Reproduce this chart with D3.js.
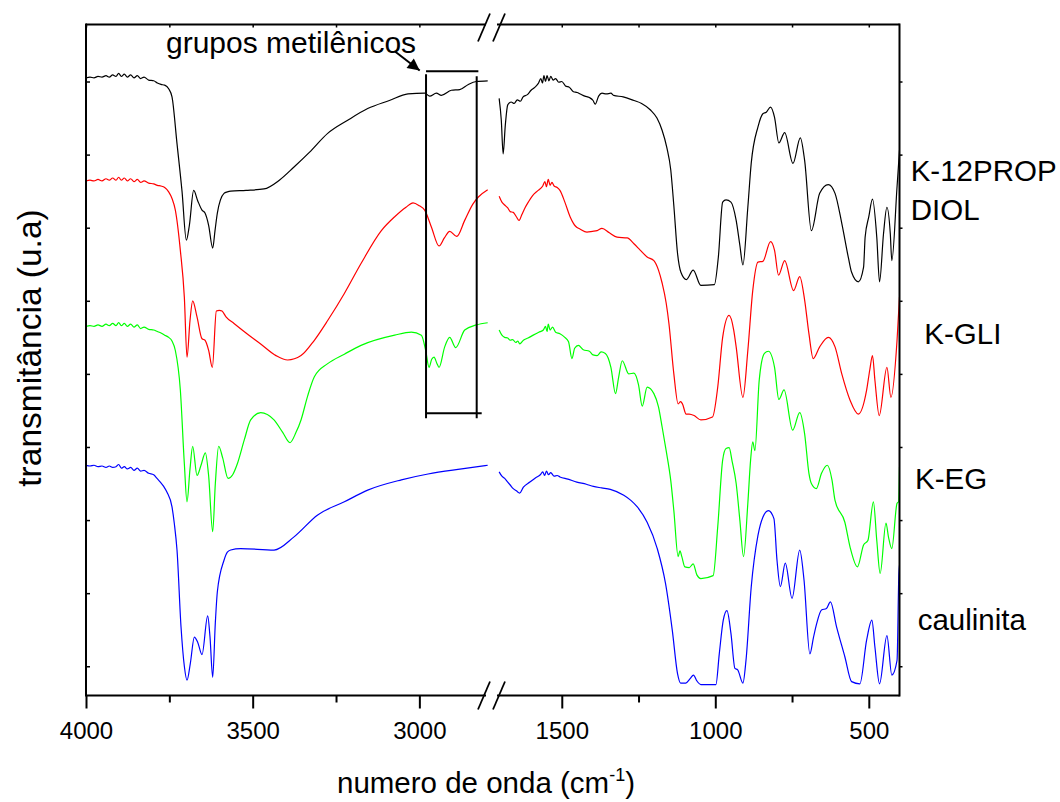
<!DOCTYPE html>
<html>
<head>
<meta charset="utf-8">
<script src="https://cdn.jsdelivr.net/npm/d3@7"></script>
<style>
  body { margin: 0; background: #fff; }
  text { font-family: "Liberation Sans", Arial, sans-serif; fill: #000; }
</style>
</head>
<body>
<script>
// FTIR spectra, [wavenumber (cm-1), transmittance (a.u.)]
const k12Left = [[4000,8.05],[3988,8.06],[3976,8.05],[3964,8.07],[3952,8.06],[3940,8.08],[3930,8.06],[3920,8.09],[3910,8.07],[3902,8.11],[3894,8.07],[3885,8.10],[3876,8.06],[3866,8.09],[3856,8.05],[3846,8.08],[3836,8.04],[3826,8.06],[3812,8.02],[3797,8.01],[3786,7.98],[3775,7.96],[3764,7.95],[3752,7.90],[3742,7.79],[3727,7.15],[3712,6.50],[3699,5.83],[3690,6.03],[3677,6.51],[3665,6.37],[3652,6.24],[3643,6.20],[3632,6.03],[3620,5.72],[3613,5.96],[3606,6.20],[3586,6.47],[3576,6.49],[3566,6.50],[3520,6.51],[3466,6.53],[3420,6.65],[3376,6.83],[3330,7.03],[3275,7.29],[3215,7.47],[3155,7.63],[3090,7.74],[3034,7.83],[2984,7.84],[2969,7.80],[2949,7.84],[2934,7.81],[2904,7.88],[2879,7.89],[2853,7.96],[2829,8.00],[2795,8.01]];
const k12Right = [[1704,7.77],[1697,7.47],[1691,7.01],[1684,7.40],[1676,7.68],[1665,7.72],[1655,7.70],[1645,7.75],[1635,7.73],[1626,7.79],[1612,7.82],[1600,7.88],[1588,7.92],[1577,7.97],[1568,8.04],[1563,7.98],[1558,8.08],[1553,8.00],[1548,8.08],[1542,8.01],[1536,8.07],[1528,8.02],[1520,8.04],[1510,7.99],[1500,8.00],[1488,7.94],[1475,7.92],[1462,7.86],[1450,7.85],[1440,7.83],[1425,7.80],[1410,7.78],[1398,7.74],[1391,7.69],[1380,7.80],[1369,7.84],[1355,7.83],[1340,7.84],[1331,7.81],[1300,7.79],[1265,7.74],[1240,7.70],[1211,7.61],[1190,7.50],[1173,7.33],[1158,7.10],[1145,6.79],[1135,6.30],[1123,5.65],[1112,5.39],[1094,5.29],[1072,5.42],[1047,5.21],[1003,5.22],[990,5.60],[976,6.35],[965,6.38],[949,6.35],[932,6.10],[920,5.76],[910,5.49],[894,6.28],[883,6.88],[861,7.38],[845,7.56],[834,7.58],[820,7.65],[807,7.51],[793,7.16],[774,7.30],[747,6.88],[723,7.23],[709,6.92],[687,5.96],[660,6.47],[632,6.59],[610,6.47],[588,6.06],[566,5.58],[556,5.39],[534,5.26],[517,5.46],[512,5.87],[500,6.15],[488,6.39],[474,5.87],[465,5.26],[452,5.92],[441,6.28],[430,5.92],[425,5.55],[408,6.56],[400,7.06]];

const gliLeft = [[4000,6.64],[3988,6.65],[3976,6.64],[3964,6.66],[3952,6.64],[3940,6.67],[3930,6.65],[3920,6.68],[3910,6.65],[3902,6.69],[3894,6.65],[3885,6.68],[3876,6.64],[3866,6.67],[3856,6.63],[3846,6.66],[3836,6.62],[3826,6.64],[3812,6.61],[3797,6.60],[3786,6.58],[3775,6.57],[3764,6.55],[3752,6.49],[3742,6.40],[3732,6.24],[3717,5.69],[3705,5.05],[3697,4.23],[3688,4.73],[3680,5.00],[3667,4.78],[3652,4.48],[3643,4.46],[3632,4.32],[3621,4.09],[3609,4.86],[3600,4.87],[3592,4.86],[3580,4.78],[3556,4.69],[3520,4.56],[3476,4.41],[3430,4.25],[3395,4.19],[3355,4.25],[3315,4.46],[3275,4.73],[3225,5.10],[3175,5.51],[3114,5.96],[3074,6.15],[3040,6.28],[3019,6.34],[3000,6.30],[2984,6.24],[2964,6.01],[2941,5.75],[2925,5.86],[2909,5.95],[2888,5.88],[2864,6.10],[2840,6.32],[2823,6.42],[2795,6.52]];
const gliRight = [[1704,6.43],[1695,6.35],[1686,6.31],[1676,6.27],[1668,6.22],[1658,6.21],[1648,6.15],[1639,6.10],[1630,6.18],[1620,6.27],[1609,6.35],[1595,6.44],[1577,6.51],[1562,6.57],[1555,6.63],[1550,6.56],[1544,6.66],[1538,6.58],[1532,6.62],[1525,6.57],[1515,6.55],[1506,6.51],[1490,6.35],[1473,6.15],[1462,6.06],[1455,6.02],[1440,5.98],[1418,5.94],[1400,5.95],[1385,5.96],[1369,5.99],[1345,5.93],[1320,5.87],[1287,5.86],[1265,5.78],[1244,5.69],[1222,5.60],[1200,5.55],[1185,5.42],[1173,5.24],[1160,4.97],[1151,4.69],[1135,4.00],[1121,3.59],[1113,3.62],[1107,3.59],[1095,3.45],[1085,3.45],[1069,3.43],[1047,3.37],[1009,3.41],[992,3.82],[976,4.50],[955,4.80],[940,4.60],[932,4.37],[910,3.68],[894,4.32],[878,5.14],[861,5.53],[845,5.54],[820,5.81],[807,5.69],[794,5.35],[774,5.55],[745,5.14],[725,5.33],[709,5.01],[695,4.55],[681,4.21],[660,4.37],[632,4.50],[610,4.37],[588,4.00],[561,3.64],[534,3.45],[507,3.78],[497,4.05],[488,4.25],[480,3.91],[466,3.43],[441,4.09],[428,3.68],[408,4.46],[400,5.05]];

const egLeft = [[4000,4.65],[3988,4.66],[3976,4.65],[3964,4.67],[3952,4.65],[3940,4.68],[3930,4.66],[3920,4.69],[3910,4.66],[3902,4.70],[3894,4.66],[3885,4.69],[3876,4.65],[3866,4.68],[3856,4.64],[3846,4.67],[3836,4.62],[3826,4.64],[3812,4.61],[3797,4.60],[3786,4.58],[3775,4.56],[3764,4.53],[3752,4.50],[3742,4.45],[3732,4.32],[3717,3.78],[3705,2.77],[3697,2.25],[3688,2.70],[3680,3.01],[3667,2.61],[3655,2.75],[3642,2.92],[3632,2.60],[3620,1.84],[3612,2.50],[3602,3.01],[3590,2.85],[3574,2.57],[3560,2.62],[3546,2.77],[3525,3.10],[3506,3.37],[3476,3.47],[3436,3.37],[3410,3.20],[3388,3.06],[3370,3.20],[3355,3.37],[3335,3.70],[3315,3.96],[3275,4.14],[3225,4.27],[3175,4.39],[3074,4.53],[3024,4.57],[2994,4.53],[2981,4.32],[2971,4.09],[2963,4.20],[2956,4.23],[2948,4.15],[2941,4.09],[2924,4.37],[2909,4.50],[2891,4.36],[2864,4.60],[2829,4.67],[2795,4.70]];
const egRight = [[1704,4.60],[1695,4.53],[1686,4.50],[1676,4.49],[1668,4.46],[1660,4.47],[1650,4.43],[1643,4.45],[1637,4.41],[1625,4.46],[1610,4.49],[1593,4.53],[1575,4.57],[1560,4.60],[1553,4.65],[1548,4.58],[1544,4.68],[1538,4.60],[1530,4.64],[1520,4.57],[1506,4.55],[1490,4.50],[1478,4.44],[1467,4.21],[1458,4.35],[1446,4.39],[1430,4.33],[1410,4.31],[1398,4.26],[1385,4.25],[1372,4.30],[1358,4.28],[1340,4.09],[1325,3.73],[1315,3.95],[1303,4.18],[1282,4.00],[1265,4.01],[1250,3.85],[1238,3.56],[1222,3.82],[1200,3.73],[1185,3.55],[1173,3.27],[1160,2.95],[1145,2.54],[1135,2.13],[1121,1.50],[1115,1.58],[1109,1.50],[1099,1.36],[1085,1.35],[1072,1.40],[1060,1.25],[1047,1.20],[1007,1.24],[992,1.91],[976,2.82],[965,2.98],[955,2.99],[945,2.80],[932,2.50],[920,2.00],[908,1.50],[894,2.23],[885,2.82],[878,3.07],[871,2.95],[857,3.91],[840,4.28],[827,4.31],[807,4.09],[793,3.65],[776,3.78],[748,3.23],[725,3.47],[709,3.18],[695,2.64],[687,2.50],[671,2.43],[654,2.64],[635,2.75],[620,2.55],[610,2.27],[578,1.97],[561,1.63],[537,1.36],[517,1.66],[503,1.72],[485,2.25],[474,1.72],[463,1.27],[444,1.96],[436,1.77],[425,1.61],[408,2.23],[403,2.25],[400,2.73]];

const kaoLeft = [[4000,2.75],[3988,2.74],[3976,2.75],[3964,2.73],[3952,2.74],[3940,2.72],[3930,2.74],[3920,2.72],[3910,2.73],[3902,2.76],[3894,2.71],[3885,2.73],[3876,2.70],[3866,2.72],[3856,2.68],[3846,2.71],[3836,2.67],[3826,2.68],[3812,2.64],[3797,2.62],[3787,2.57],[3777,2.52],[3767,2.46],[3757,2.38],[3742,2.18],[3735,1.95],[3727,1.59],[3715,0.54],[3705,0.00],[3697,-0.19],[3687,0.04],[3675,0.40],[3665,0.33],[3652,0.16],[3635,0.69],[3628,0.40],[3620,-0.15],[3612,0.60],[3606,1.02],[3586,1.45],[3576,1.56],[3566,1.59],[3536,1.61],[3436,1.59],[3376,1.77],[3305,2.07],[3225,2.25],[3155,2.41],[3054,2.55],[2974,2.63],[2873,2.70],[2795,2.75]];
const kaoRight = [[1704,2.66],[1695,2.60],[1686,2.57],[1676,2.52],[1668,2.48],[1658,2.43],[1648,2.40],[1637,2.37],[1625,2.45],[1604,2.52],[1585,2.58],[1570,2.62],[1562,2.66],[1556,2.61],[1550,2.67],[1543,2.62],[1536,2.65],[1525,2.60],[1515,2.61],[1506,2.59],[1480,2.56],[1451,2.52],[1420,2.49],[1397,2.46],[1370,2.44],[1342,2.42],[1298,2.34],[1275,2.27],[1254,2.18],[1222,1.97],[1189,1.61],[1162,1.13],[1140,0.49],[1123,-0.10],[1113,-0.23],[1096,-0.23],[1082,-0.17],[1071,-0.12],[1060,-0.20],[1047,-0.25],[998,-0.25],[987,0.17],[974,0.63],[962,0.76],[949,0.45],[936,-0.03],[927,-0.05],[910,-0.23],[900,0.08],[883,1.08],[861,1.79],[845,2.04],[827,2.13],[809,2.02],[799,1.45],[788,1.09],[772,1.41],[750,0.93],[725,1.59],[711,1.18],[692,0.17],[680,0.40],[670,0.58],[654,0.77],[638,0.79],[625,0.88],[605,0.54],[578,0.13],[556,-0.21],[529,-0.24],[507,0.36],[490,0.63],[480,0.26],[465,-0.24],[441,0.42],[425,-0.12],[408,0.08],[402,1.27],[400,1.38]];

const seriesLabels = [["K-12PROP", "DIOL"], ["K-GLI"], ["K-EG"], ["caulinita"]];
const seriesColors = ["#000000", "#ff0000", "#00ff00", "#0000ff"];
const leftMajor = [4000, 3500, 3000], leftMinor = [3750, 3250];
const rightMajor = [1500, 1000, 500], rightMinor = [1250, 750];
const yTicks = [0, 1, 2, 3, 4, 5, 6, 7, 8];

// =============================================================================

const width = 1060, height = 802;
const mL = 86, mR = 899.5, mT = 24.5, mB = 695.5, brk = 492.7;

const xL = d3.scaleLinear().domain([4000, 2780]).range([mL, brk]);
const xR = d3.scaleLinear().domain([1725, 400]).range([brk, mR]);
const y = d3.scaleLinear().domain([-0.4, 8.78]).range([mB, mT]);

const svg = d3.select("body").append("svg")
    .attr("width", width)
    .attr("height", height);

const defs = svg.append("defs");
defs.append("clipPath").attr("id", "plot")
  .append("rect")
    .attr("x", mL).attr("y", mT)
    .attr("width", mR - mL).attr("height", mB - mT);

const lineL = d3.line().x(d => xL(d[0])).y(d => y(d[1])).curve(d3.curveMonotoneX);
const lineR = d3.line().x(d => xR(d[0])).y(d => y(d[1])).curve(d3.curveMonotoneX);

const series = [[k12Left, k12Right], [gliLeft, gliRight], [egLeft, egRight], [kaoLeft, kaoRight]];

const g = svg.append("g").attr("clip-path", "url(#plot)");
series.forEach(([a, b], i) => {
  g.append("path").datum(a).attr("d", lineL)
      .attr("fill", "none").attr("stroke", seriesColors[i]).attr("stroke-width", 1.2);
  g.append("path").datum(b).attr("d", lineR)
      .attr("fill", "none").attr("stroke", seriesColors[i]).attr("stroke-width", 1.2);
});

// frame, with a gap at the axis break
const frame = svg.append("g").attr("stroke", "#000").attr("stroke-width", 2).attr("fill", "none");
[[mL, 486], [497, mR]].forEach(([a, b]) => {
  frame.append("line").attr("x1", a).attr("x2", b).attr("y1", mB).attr("y2", mB);
  frame.append("line").attr("x1", a).attr("x2", b).attr("y1", mT).attr("y2", mT);
});
frame.append("line").attr("x1", mL).attr("x2", mL).attr("y1", mT - 1).attr("y2", mB + 1);
frame.append("line").attr("x1", mR).attr("x2", mR).attr("y1", mT - 1).attr("y2", mB + 1);

// break marks
[mB, mT + 3].forEach(yy => {
  [484, 499].forEach(xx => {
    frame.append("line")
        .attr("x1", xx - 6).attr("y1", yy + 14)
        .attr("x2", xx + 6).attr("y2", yy - 14)
        .attr("stroke-width", 1.8);
  });
});

// x axes
function xAxis(scale, major, minor) {
  const gb = svg.append("g").attr("transform", `translate(0,${mB})`);
  gb.call(d3.axisBottom(scale).tickValues(major).tickSize(13).tickSizeOuter(0).tickFormat(d3.format("d")));
  gb.call(s => s.select(".domain").remove());
  gb.selectAll(".tick line").attr("stroke-width", 2);
  gb.selectAll(".tick text")
      .attr("y", 43.5).attr("dy", null)
      .attr("font-size", 24).attr("font-family", "Liberation Sans, Arial, sans-serif");
  const gm = svg.append("g").attr("transform", `translate(0,${mB})`);
  gm.call(d3.axisBottom(scale).tickValues(minor).tickSize(7).tickSizeOuter(0).tickFormat(""));
  gm.call(s => s.select(".domain").remove());
  gm.selectAll(".tick line").attr("stroke-width", 2);

  const gt = svg.append("g").attr("transform", `translate(0,${mT})`);
  gt.call(d3.axisTop(scale).tickValues(major.concat(minor)).tickSize(-3).tickSizeOuter(0).tickFormat(""));
  gt.call(s => s.select(".domain").remove());
  gt.selectAll(".tick line").attr("stroke-width", 1.5);
}
xAxis(xL, leftMajor, leftMinor);
xAxis(xR, rightMajor, rightMinor);

// y axes, unlabeled ticks
const gyl = svg.append("g").attr("transform", `translate(${mL},0)`)
    .call(d3.axisLeft(y).tickValues(yTicks).tickSize(-4).tickFormat("").tickSizeOuter(0));
gyl.select(".domain").remove();
gyl.selectAll(".tick line").attr("stroke-width", 1.5);
const gyr = svg.append("g").attr("transform", `translate(${mR},0)`)
    .call(d3.axisRight(y).tickValues(yTicks).tickSize(3).tickFormat("").tickSizeOuter(0));
gyr.select(".domain").remove();
gyr.selectAll(".tick line").attr("stroke-width", 1.5);

// axis titles
const xt = svg.append("text")
    .attr("x", 486).attr("y", 793)
    .attr("text-anchor", "middle")
    .attr("font-size", 29.5);
xt.append("tspan").text("numero de onda (cm");
xt.append("tspan").attr("dy", -12).attr("font-size", 18).text("-1");
xt.append("tspan").attr("dy", 12).text(")");

svg.append("text")
    .attr("transform", "translate(40.5,348) rotate(-90)")
    .attr("text-anchor", "middle")
    .attr("font-size", 33.5)
    .text("transmitância (u.a)");

// series labels on the right
const labelPos = [
  { x: 910.7, v: [6.64, 6.11] },
  { x: 924.3, v: [4.41] },
  { x: 915, v: [2.43] },
  { x: 917.7, v: [0.49] }
];
seriesLabels.forEach((lines, i) => {
  lines.forEach((t, j) => {
    svg.append("text")
        .attr("x", labelPos[i].x).attr("y", y(labelPos[i].v[j]))
        .attr("font-size", 29.5)
        .text(t);
  });
});

// annotation: methylene groups box and arrow
const boxL = 2980, boxR = 2828, boxTop = 8.14, boxBot = 3.46;
const ann = svg.append("g").attr("stroke", "#000").attr("stroke-width", 2).attr("fill", "none");
ann.append("line").attr("x1", xL(boxL)).attr("x2", xL(2823)).attr("y1", y(boxTop)).attr("y2", y(boxTop));
ann.append("line").attr("x1", xL(boxL)).attr("x2", xL(2813)).attr("y1", y(boxBot)).attr("y2", y(boxBot));
ann.append("line").attr("x1", xL(boxL)).attr("x2", xL(boxL)).attr("y1", y(boxTop) + 3).attr("y2", y(boxBot) + 5);
ann.append("line").attr("x1", xL(boxR)).attr("x2", xL(boxR)).attr("y1", y(boxTop) + 5).attr("y2", y(boxBot) + 5);

defs.append("marker")
    .attr("id", "arrow")
    .attr("viewBox", "0 0 10 10")
    .attr("refX", 10).attr("refY", 5)
    .attr("markerWidth", 7).attr("markerHeight", 6)
    .attr("markerUnits", "strokeWidth")
    .attr("orient", "auto")
  .append("path").attr("d", "M0,0L10,5L0,10Z").attr("fill", "#000");

ann.append("line")
    .attr("x1", xL(3073)).attr("y1", y(8.41))
    .attr("x2", xL(2999)).attr("y2", y(8.15))
    .attr("marker-end", "url(#arrow)");

svg.append("text")
    .attr("x", 166).attr("y", 53)
    .attr("font-size", 30)
    .text("grupos metilênicos");
</script>
</body>
</html>
